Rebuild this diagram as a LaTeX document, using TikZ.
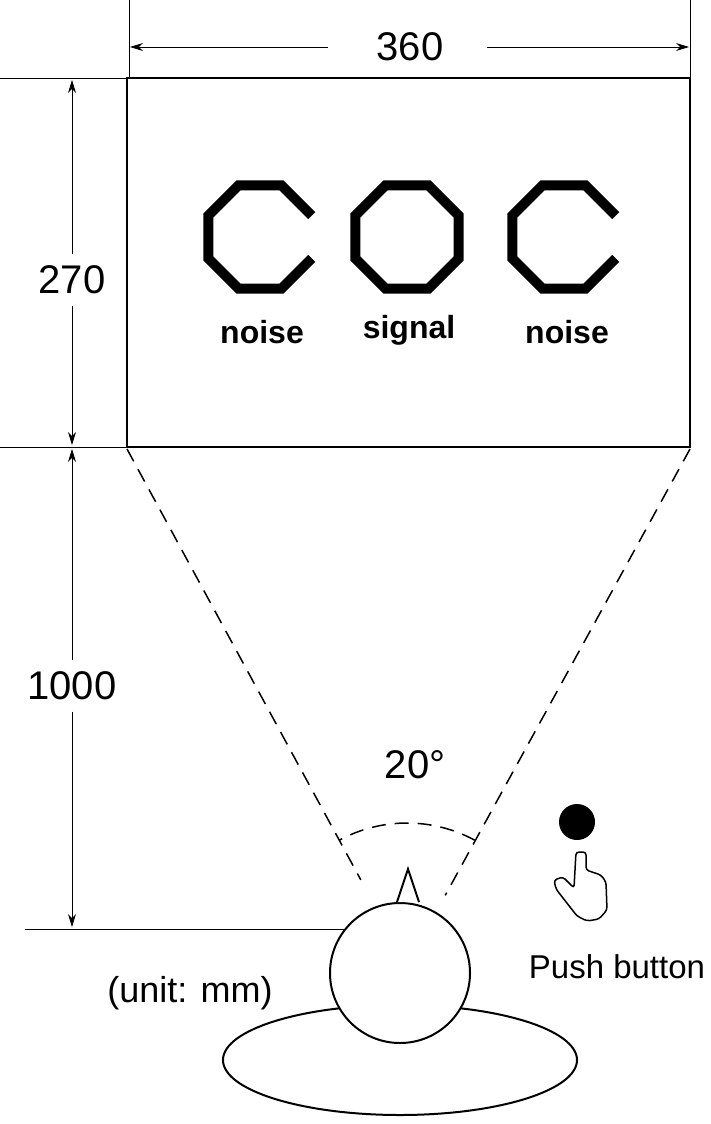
\documentclass[tikz,border=0pt]{standalone}
\usepackage{fontspec}
\setmainfont{Liberation Sans}
\usetikzlibrary{arrows.meta,calc}
\begin{document}
\begin{tikzpicture}[x=1pt,y=-1pt,
  dim/.style={line width=0.8pt,-{Stealth[length=13pt,width=8pt]}},
  oct/.style={line width=10pt,line join=miter},
  big/.style={font=\fontsize{40}{40}\selectfont},
  lab/.style={font=\fontsize{32}{32}\selectfont\bfseries},
  small/.style={font=\fontsize{33}{33}\selectfont}]
\useasboundingbox (0,0) rectangle (711,1124);
% screen
\draw[line width=2pt] (127,78) rectangle (690,447);
\coordinate (TL) at (127,449); \coordinate (TR) at (690,449);
% extension lines
\draw[line width=0.8pt] (129,0)--(129,78) (690,0)--(690,78);
\draw[line width=0.8pt] (0,78)--(127,78) (0,447)--(127,447) (25,929)--(345,929);
% dims
\node[big] (w) at (410,47) {360};
\draw[dim] ($(w.west)+(-45,0)$) -- (130,47);
\draw[dim] ($(w.east)+(40,0)$) -- (689,47);
\node[big] (h) at (72,280) {270};
\draw[dim] ($(h.north)+(0,-8)$) -- (72,80);
\draw[dim] ($(h.south)+(0,8)$) -- (72,445);
\node[big] (d) at (72,686) {1000};
\draw[dim] ($(d.north)+(0,-8)$) -- (72,449);
\draw[dim] ($(d.south)+(0,8)$) -- (72,927);
% optotypes
\begin{scope}[shift={(260,237)}]
\draw[oct] (22.5:56)--(67.5:56)--(112.5:56)--(157.5:56)--(202.5:56)--(247.5:56)--(292.5:56)--(337.5:56);
\end{scope}
\begin{scope}[shift={(407,237)}]
\draw[oct] (22.5:56)--(67.5:56)--(112.5:56)--(157.5:56)--(202.5:56)--(247.5:56)--(292.5:56)--(337.5:56)--cycle;
\end{scope}
\begin{scope}[shift={(564,237)}]
\draw[oct] (22.5:56)--(67.5:56)--(112.5:56)--(157.5:56)--(202.5:56)--(247.5:56)--(292.5:56)--(337.5:56);
\end{scope}
\node[lab] (n1) at (262,332) {noise};
\node[lab] (s) at (409,330) {signal};
\node[lab] (n2) at (567,332) {noise};
% observer
\draw[line width=2pt] (400,1060) ellipse [x radius=177, y radius=55];
\node[draw,line width=2pt,fill=white,circle,minimum size=140pt,inner sep=0] (head) at (400,973) {};
\draw[line width=2pt,fill=white] (397,902)--(408,869)--(419,902);
\coordinate (apex) at (407,965);
\draw[dashed,line width=1.5pt,dash pattern=on 14pt off 9pt] (TL)--($(TL)!0.835!(apex)$);
\draw[dashed,line width=1.5pt,dash pattern=on 14pt off 9pt] (TR)--($(TR)!0.865!(apex)$);
\draw[line width=1.5pt,dash pattern=on 14pt off 9pt] (apex) ++(118.5:-142) arc[start angle=118.5,end angle=61.5,radius=-142];
\node[big] (ang) at (415,765) {20°};
% button
\fill (577,822) circle (18);
\draw[line width=1.5pt,rounded corners=3pt] (576,852)--(586,852)--(586,870)--(601,875)--(606,882)--(607,910)--(599,919)--(587,921)--(577,916)--(556,889)--(554,880)--(563,877)--(574,888)--cycle;
\node[small] (pb) at (617,967) {Push button};
\node[small,font=\fontsize{36}{36}\selectfont] (u) at (190,993) {(unit: mm)};
\end{tikzpicture}
\end{document}
